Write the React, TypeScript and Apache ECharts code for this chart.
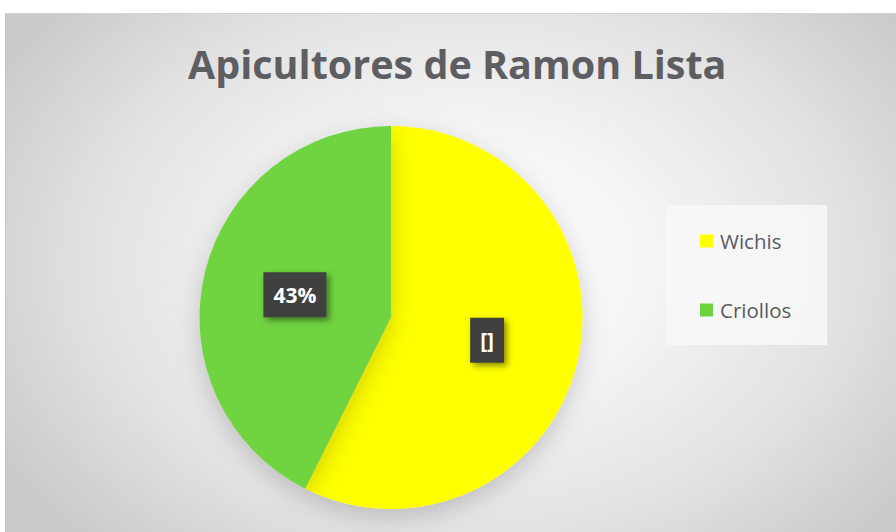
import React, { useEffect, useRef } from "react";
import * as echarts from "echarts";

const titleText = "Apicultores de Ramon Lista";
const categories = ["Wichis", "Criollos"];
const values = [57.4, 42.6];
const labelTexts = ["[]", "43%"];
const colors = ["#FFFF00", "#6FD33F"];

export default function App() {
  const ref = useRef<HTMLDivElement>(null);
  useEffect(() => {
    if (!ref.current) return;
    const chart = echarts.init(ref.current, null, { renderer: "svg" });
    chart.setOption({
      animation: false,
      title: {
        text: titleText,
        left: 177,
        top: 25,
        textStyle: {
          fontFamily: "Open Sans",
          fontWeight: "bold",
          fontSize: 39.5,
          color: "#5E5E62",
        },
      },
      legend: {
        orient: "vertical",
        left: 660,
        top: 191,
        data: categories,
        icon: "rect",
        itemWidth: 13,
        itemHeight: 13,
        itemGap: 48,
        padding: [25.5, 36, 24.5, 34],
        backgroundColor: "rgba(248,248,248,0.85)",
        textStyle: {
          fontFamily: "Open Sans",
          fontSize: 20.5,
          color: "#5A5A5E",
          lineHeight: 13,
          padding: [0, 0, 0, 2],
        },
      },
      series: [
        {
          type: "pie",
          center: [385, 303.5],
          radius: [0, 191.5],
          startAngle: 90,
          clockwise: true,
          label: {
            show: true,
            position: "inside",
            formatter: (p: any) => labelTexts[p.dataIndex],
            color: "#FFFFFF",
            fontFamily: "Open Sans",
            fontWeight: "bold",
            fontSize: 21,
            backgroundColor: "#3F3F3F",
            padding: [12, 10],
            shadowColor: "rgba(0,0,0,0.45)",
            shadowBlur: 6,
            shadowOffsetX: 3,
            shadowOffsetY: 3,
          },
          labelLine: { show: false },
          itemStyle: {
            shadowColor: "rgba(0,0,0,0.18)",
            shadowBlur: 25,
            shadowOffsetY: 8,
          },
          emphasis: { disabled: true },
          data: categories.map((c, i) => ({
            name: c,
            value: values[i],
            itemStyle: { color: colors[i] },
          })),
        },
      ],
    });
    return () => chart.dispose();
  }, []);
  return (
    <div style={{ position: "fixed", left: 0, top: 0, width: 896, height: 532, background: "#ffffff" }}>
      <div
        style={{
          position: "absolute",
          left: 5,
          top: 13,
          width: 891,
          height: 519,
          borderTop: "1px solid #d0d0d6",
          borderLeft: "1px solid #c4c4c8",
          boxSizing: "border-box",
          background:
            "radial-gradient(ellipse 60% 75% at 52% 48%, #ffffff 0%, #f4f4f4 35%, #e2e2e2 70%, #cbcbcb 100%)",
        }}
      >
        <div ref={ref} style={{ width: 890, height: 518 }} />
      </div>
    </div>
  );
}
